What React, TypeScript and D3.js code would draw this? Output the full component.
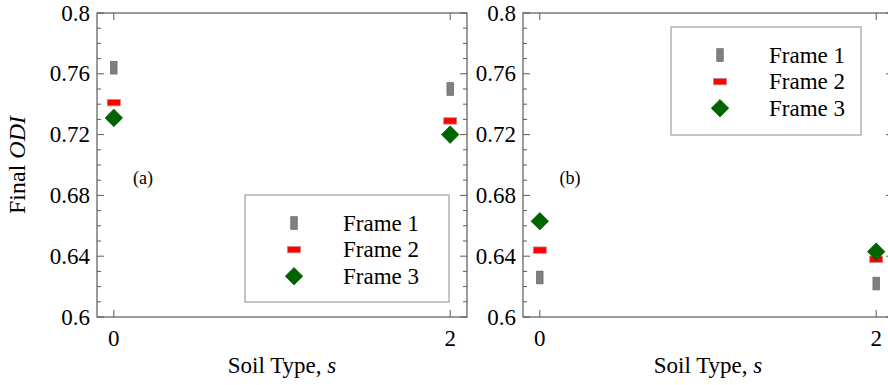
import React, { useEffect, useRef } from 'react';
import * as d3 from 'd3';

// soil types on the x axis
const soilTypes = [0, 2];
const xTickLabels = ['0', '2'];
const yTickValues = [0.6, 0.64, 0.68, 0.72, 0.76, 0.8];
const yTickLabels = ['0.6', '0.64', '0.68', '0.72', '0.76', '0.8'];
const frameNames = ['Frame 1', 'Frame 2', 'Frame 3'];

// final ODI, panel (a)
const panelA_frame1 = [0.764, 0.750];
const panelA_frame2 = [0.741, 0.729];
const panelA_frame3 = [0.731, 0.720];

// final ODI, panel (b)
const panelB_frame1 = [0.626, 0.622];
const panelB_frame2 = [0.644, 0.638];
const panelB_frame3 = [0.663, 0.643];

const FONT = "'Liberation Serif', Tinos, 'Times New Roman', Times, 'DejaVu Serif', serif";

type Panel = {
  left: number;
  label: string;
  labelPos: [number, number];
  legend: { x: number; y: number; w: number; h: number };
  series: number[][];
  showYTitle: boolean;
};

const panels: Panel[] = [
  {
    left: 97,
    label: '(a)',
    labelPos: [143, 184],
    legend: { x: 245, y: 195, w: 204, h: 107 },
    series: [panelA_frame1, panelA_frame2, panelA_frame3],
    showYTitle: true,
  },
  {
    left: 523,
    label: '(b)',
    labelPos: [570, 184],
    legend: { x: 671, y: 27, w: 190, h: 108 },
    series: [panelB_frame1, panelB_frame2, panelB_frame3],
    showYTitle: false,
  },
];

function drawMarker(g: any, kind: number, cx: number, cy: number) {
  if (kind === 0) {
    g.append('rect')
      .attr('x', cx - 3.2).attr('y', cy - 6.3)
      .attr('width', 6.4).attr('height', 12.6)
      .attr('fill', '#808080').attr('stroke', '#666').attr('stroke-width', 0.8);
  } else if (kind === 1) {
    g.append('rect')
      .attr('x', cx - 6.5).attr('y', cy - 3.2)
      .attr('width', 13).attr('height', 6.4)
      .attr('fill', '#ff0000').attr('stroke', '#c88').attr('stroke-width', 0.8);
  } else {
    const r = 8.8;
    g.append('path')
      .attr('d', `M${cx},${cy - r}L${cx + r},${cy}L${cx},${cy + r}L${cx - r},${cy}Z`)
      .attr('fill', '#006400').attr('stroke', '#004d00').attr('stroke-width', 0.6);
  }
}

function txt(g: any, x: number, y: number, size: number, anchor = 'start') {
  return g.append('text')
    .attr('x', x).attr('y', y)
    .attr('text-anchor', anchor)
    .style('font-family', FONT)
    .style('font-size', size + 'px')
    .attr('fill', '#000');
}

export default function App() {
  const ref = useRef<SVGSVGElement>(null);

  useEffect(() => {
    const svg = d3.select(ref.current);
    svg.selectAll('*').remove();

    const top = 13, bottom = 317;
    const axisColor = '#5a5a5a';

    panels.forEach((p) => {
      const width = 370;
      const x = d3.scaleLinear().domain([-0.1, 2.1]).range([p.left, p.left + width]);
      const y = d3.scaleLinear().domain([0.6, 0.8]).range([bottom, top]);
      const g = svg.append('g');

      // minor ticks on left and right (inward)
      const minor = d3.range(0.6, 0.8001, 0.01);
      minor.forEach((v) => {
        const major = yTickValues.some((t) => Math.abs(t - v) < 1e-6);
        const len = major ? 7 : 4;
        g.append('line')
          .attr('x1', p.left).attr('x2', p.left + len)
          .attr('y1', y(v)).attr('y2', y(v))
          .attr('stroke', axisColor).attr('stroke-width', 1);
        g.append('line')
          .attr('x1', p.left + width).attr('x2', p.left + width - len)
          .attr('y1', y(v)).attr('y2', y(v))
          .attr('stroke', axisColor).attr('stroke-width', 1);
      });

      // x ticks top and bottom
      soilTypes.forEach((s) => {
        g.append('line')
          .attr('x1', x(s)).attr('x2', x(s))
          .attr('y1', bottom).attr('y2', bottom - 7)
          .attr('stroke', axisColor);
        g.append('line')
          .attr('x1', x(s)).attr('x2', x(s))
          .attr('y1', top).attr('y2', top + 7)
          .attr('stroke', axisColor);
      });

      // frame
      g.append('rect')
        .attr('x', p.left).attr('y', top)
        .attr('width', width).attr('height', bottom - top)
        .attr('fill', 'none').attr('stroke', axisColor).attr('stroke-width', 1.2);

      // y tick labels
      yTickValues.forEach((v, i) => {
        txt(g, p.left - 7, y(v) + 7.5, 23, 'end').text(yTickLabels[i]);
      });

      // x tick labels
      soilTypes.forEach((s, i) => {
        txt(g, x(s), 346, 23, 'middle').text(xTickLabels[i]);
      });

      // x title
      const xt = txt(g, p.left + width / 2, 373, 23, 'middle');
      xt.append('tspan').text('Soil Type, ');
      xt.append('tspan').attr('font-style', 'italic').text('s');

      if (p.showYTitle) {
        const yt = txt(g, 0, 0, 24, 'middle')
          .attr('transform', `translate(25,${(top + bottom) / 2}) rotate(-90)`);
        yt.append('tspan').text('Final ');
        yt.append('tspan').attr('font-style', 'italic').text('ODI');
      }

      // panel label
      txt(g, p.labelPos[0], p.labelPos[1], 18, 'middle').text(p.label);

      // data markers
      p.series.forEach((vals, k) => {
        vals.forEach((v, i) => drawMarker(g, k, x(soilTypes[i]), y(v)));
      });

      // legend
      const L = p.legend;
      g.append('rect')
        .attr('x', L.x).attr('y', L.y)
        .attr('width', L.w).attr('height', L.h)
        .attr('fill', '#fff').attr('stroke', '#8a8a8a').attr('stroke-width', 1);
      frameNames.forEach((name, k) => {
        const cy = L.y + 28 + k * 26.6;
        drawMarker(g, k, L.x + 49, cy);
        txt(g, L.x + 98, cy + 7.5, 23).text(name);
      });
    });
  }, []);

  return (
    <svg
      ref={ref}
      width={888}
      height={385}
      style={{ position: 'absolute', left: 0, top: 0, background: '#fff' }}
    />
  );
}
